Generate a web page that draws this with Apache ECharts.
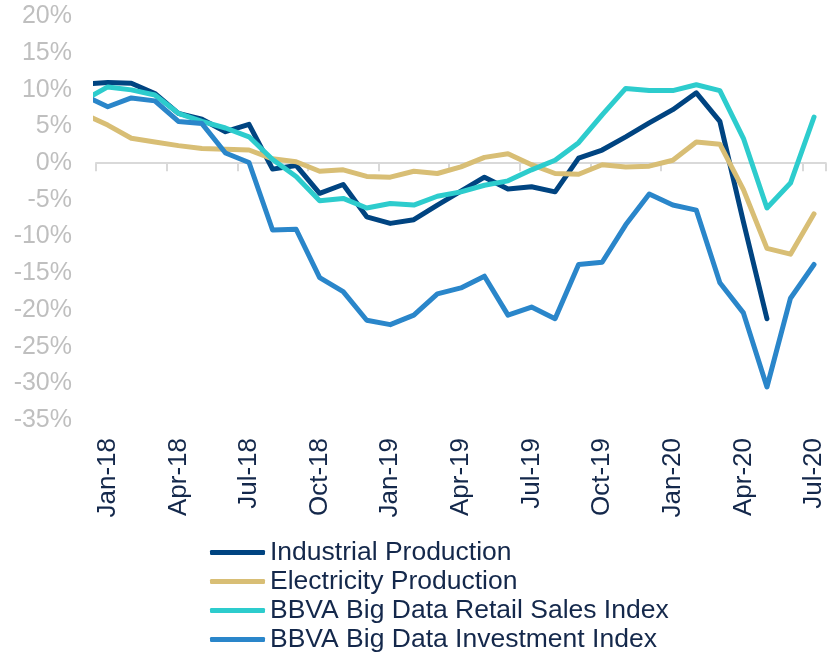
<!DOCTYPE html>
<html>
<head>
<meta charset="utf-8">
<script src="https://cdn.jsdelivr.net/npm/echarts@6/dist/echarts.min.js"></script>
<style>
html,body{margin:0;padding:0;background:#fff;}
#chart{width:827px;height:653px;}
</style>
</head>
<body>
<div id="chart"></div>
<script>
// Months Jan-18 .. Jul-20 (index 0..30); a leading Dec-17 value (index -1) is clipped at the axis edge
const months = ['Jan-18','Feb-18','Mar-18','Apr-18','May-18','Jun-18','Jul-18','Aug-18','Sep-18','Oct-18','Nov-18','Dec-18',
  'Jan-19','Feb-19','Mar-19','Apr-19','May-19','Jun-19','Jul-19','Aug-19','Sep-19','Oct-19','Nov-19','Dec-19',
  'Jan-20','Feb-20','Mar-20','Apr-20','May-20','Jun-20','Jul-20'];

const seriesNames = ['Industrial Production','Electricity Production','BBVA Big Data Retail Sales Index','BBVA Big Data Investment Index'];

// Dec-17 values (clipped lead-in)
const dec17 = [10.8, 6.7, 8.6, 9.2];

const industrial = [11.0, 10.9, 9.5, 6.8, 6.0, 4.3, 5.3, -0.8, -0.3, -4.1, -2.9, -7.3, -8.2, -7.7, -5.7, -3.8, -1.9, -3.5, -3.2, -3.9,
  0.7, 1.8, 3.6, 5.5, 7.3, 9.6, 5.7, -8.0, -21.2, null, null];
const electricity = [5.2, 3.4, 2.9, 2.4, 2.0, 1.9, 1.8, 0.6, 0.2, -1.1, -0.9, -1.8, -1.9, -1.1, -1.4, -0.5, 0.8, 1.3, -0.2, -1.4,
  -1.5, -0.2, -0.5, -0.4, 0.4, 2.9, 2.6, -3.6, -11.6, -12.4, -6.9];
const retail = [10.4, 10.0, 9.3, 6.8, 5.7, 4.8, 3.6, 0.5, -1.8, -5.1, -4.8, -6.1, -5.5, -5.7, -4.5, -3.9, -3.0, -2.4, -0.9, 0.4,
  2.8, 6.6, 10.2, 9.9, 9.9, 10.7, 9.9, 3.4, -6.1, -2.7, 6.3];
const investment = [7.7, 8.9, 8.5, 5.7, 5.4, 1.4, 0.1, -9.1, -9.0, -15.6, -17.5, -21.4, -22.0, -20.7, -17.8, -17.0, -15.4, -20.7, -19.6, -21.2,
  -13.8, -13.5, -8.4, -4.2, -5.7, -6.4, -16.3, -20.4, -30.5, -18.4, -13.8];

const yTicks = {min: -35, max: 20, step: 5};
const colors = ['#004481', '#D8BE75', '#2DCCCD', '#2A86CA'];

const allValues = [industrial, electricity, retail, investment];
function toPairs(arr, lead) {
  const out = [[-1, lead]];
  arr.forEach((v, i) => out.push([i, v]));
  return out;
}

const FONT = "'Liberation Sans', Arial, sans-serif";
const chart = echarts.init(document.getElementById('chart'));
chart.setOption({
  animation: false,
  backgroundColor: '#ffffff',
  grid: {left: 96, right: -1, top: 16.5, bottom: 233, containLabel: false},
  legend: {
    orient: 'vertical',
    left: 210,
    top: 538,
    height: 140,
    padding: 0,
    itemGap: 0,
    itemWidth: 55,
    itemHeight: 5,
    icon: 'roundRect',
    data: seriesNames,
    textStyle: {color: '#14284b', fontSize: 26.5, fontFamily: FONT, lineHeight: 29, padding: [0,0,0,0]}
  },
  xAxis: [
    {
      type: 'value',
      min: -0.5,
      max: 30.5,
      interval: 3,
      position: 'bottom',
      axisLine: {show: true, onZero: true, lineStyle: {color: '#d9d9d9', width: 2}},
      axisTick: {show: true, length: 8, lineStyle: {color: '#d9d9d9', width: 2}},
      axisLabel: {show: false},
      splitLine: {show: false}
    },
    {
      type: 'category',
      data: months,
      boundaryGap: true,
      position: 'bottom',
      axisLine: {show: false, onZero: false},
      axisTick: {show: false},
      axisLabel: {
        interval: 2,
        rotate: 90,
        margin: 18,
        color: '#14284b',
        fontSize: 26,
        fontFamily: FONT
      },
      splitLine: {show: false}
    }
  ],
  yAxis: {
    type: 'value',
    min: yTicks.min,
    max: yTicks.max,
    interval: yTicks.step,
    axisLine: {show: false},
    axisTick: {show: false},
    splitLine: {show: false},
    axisLabel: {
      formatter: v => v + '%',
      color: '#bfbfbf',
      fontSize: 25,
      fontFamily: FONT,
      margin: 24,
      padding: [4, 0, 0, 0]
    }
  },
  series: seriesNames.map((name, k) => ({
    name: name,
    type: 'line',
    xAxisIndex: 0,
    data: toPairs(allValues[k], dec17[k]),
    showSymbol: false,
    symbol: 'none',
    clip: true,
    connectNulls: false,
    color: colors[k],
    lineStyle: {width: 5, color: colors[k], cap: 'round', join: 'round'},
    itemStyle: {color: colors[k]}
  }))
});
</script>
</body>
</html>
